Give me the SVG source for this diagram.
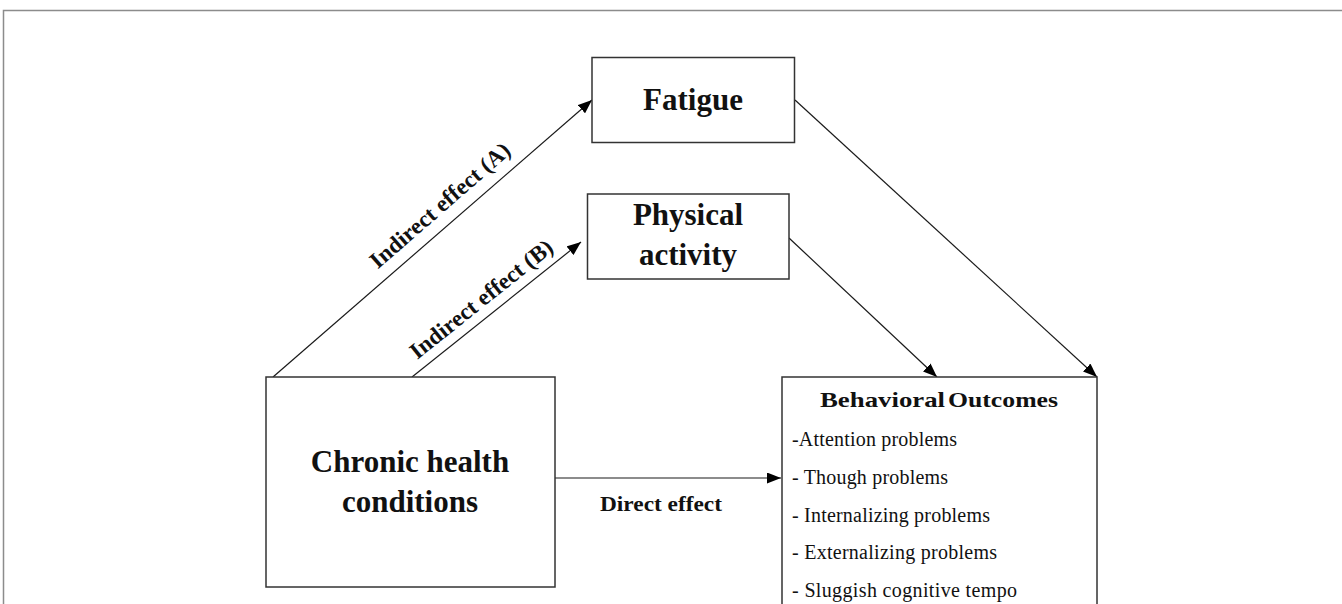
<svg xmlns="http://www.w3.org/2000/svg" width="1342" height="604" viewBox="0 0 1342 604">
  <style>
    .box { fill: #ffffff; stroke: #333333; stroke-width: 1.5; }
    .conn { stroke: #1a1a1a; stroke-width: 1.2; fill: none; marker-end: url(#arrow); }
    .title { font-family: "Liberation Serif", "Times New Roman", serif; font-weight: bold; fill: #111111; }
    .big { font-size: 31px; text-anchor: middle; }
    .lbl { font-size: 22px; }
    .rot { font-size: 23px; }
    .item { font-family: "Liberation Serif", "Times New Roman", serif; font-size: 20px; fill: #111111; }
  </style>
  <defs>
    <marker id="arrow" viewBox="0 0 14 11" refX="14" refY="5.5" markerWidth="14" markerHeight="11" markerUnits="userSpaceOnUse" orient="auto">
      <path d="M0,0 L14,5.5 L0,11 z" fill="#000000"/>
    </marker>
  </defs>
  <rect width="1342" height="604" fill="#ffffff"/>
  <path d="M3.5,604 L3.5,10.5 L1342,10.5" fill="none" stroke="#8c8c8c" stroke-width="1.5"/>

  <g id="connectors">
    <line class="conn" x1="273" y1="377" x2="592" y2="100"/>
    <line class="conn" x1="412" y1="377" x2="581" y2="242"/>
    <line class="conn" x1="795" y1="100" x2="1097" y2="377"/>
    <line class="conn" x1="789" y1="238" x2="937" y2="377"/>
    <line class="conn" x1="555" y1="478" x2="781" y2="478"/>
    <text class="title rot" text-anchor="middle" textLength="178" lengthAdjust="spacingAndGlyphs" transform="translate(445,211) rotate(-41)">Indirect effect (A)</text>
    <text class="title rot" text-anchor="middle" textLength="176" lengthAdjust="spacingAndGlyphs" transform="translate(486,305) rotate(-38.6)">Indirect effect (B)</text>
    <text class="title lbl" x="600" y="511" textLength="122" lengthAdjust="spacingAndGlyphs">Direct effect</text>
  </g>

  <g id="node-fatigue">
    <rect class="box" x="592" y="57.5" width="202.5" height="85"/>
    <text class="title big" x="693" y="110">Fatigue</text>
  </g>

  <g id="node-physical">
    <rect class="box" x="587.5" y="194" width="201.5" height="85"/>
    <text class="title big" x="688" y="225">Physical</text>
    <text class="title big" x="688" y="265">activity</text>
  </g>

  <g id="node-chronic">
    <rect class="box" x="266" y="377" width="289" height="210"/>
    <text class="title big" x="410" y="472">Chronic health</text>
    <text class="title big" x="410" y="512">conditions</text>
  </g>

  <g id="node-outcomes">
    <rect class="box" x="782" y="377" width="315" height="240"/>
    <text class="title lbl" y="407"><tspan x="820" textLength="125" lengthAdjust="spacingAndGlyphs">Behavioral</tspan> <tspan x="948" textLength="110" lengthAdjust="spacingAndGlyphs">Outcomes</tspan></text>
    <text class="item" x="792" y="446" textLength="165" lengthAdjust="spacing">-Attention problems</text>
    <text class="item" x="792" y="484" textLength="156" lengthAdjust="spacing">- Though problems</text>
    <text class="item" x="792" y="521.5" textLength="198" lengthAdjust="spacing">- Internalizing  problems</text>
    <text class="item" x="792" y="559" textLength="205" lengthAdjust="spacing">- Externalizing  problems</text>
    <text class="item" x="792" y="596.5" textLength="225" lengthAdjust="spacing">- Sluggish  cognitive  tempo</text>
  </g>
</svg>
